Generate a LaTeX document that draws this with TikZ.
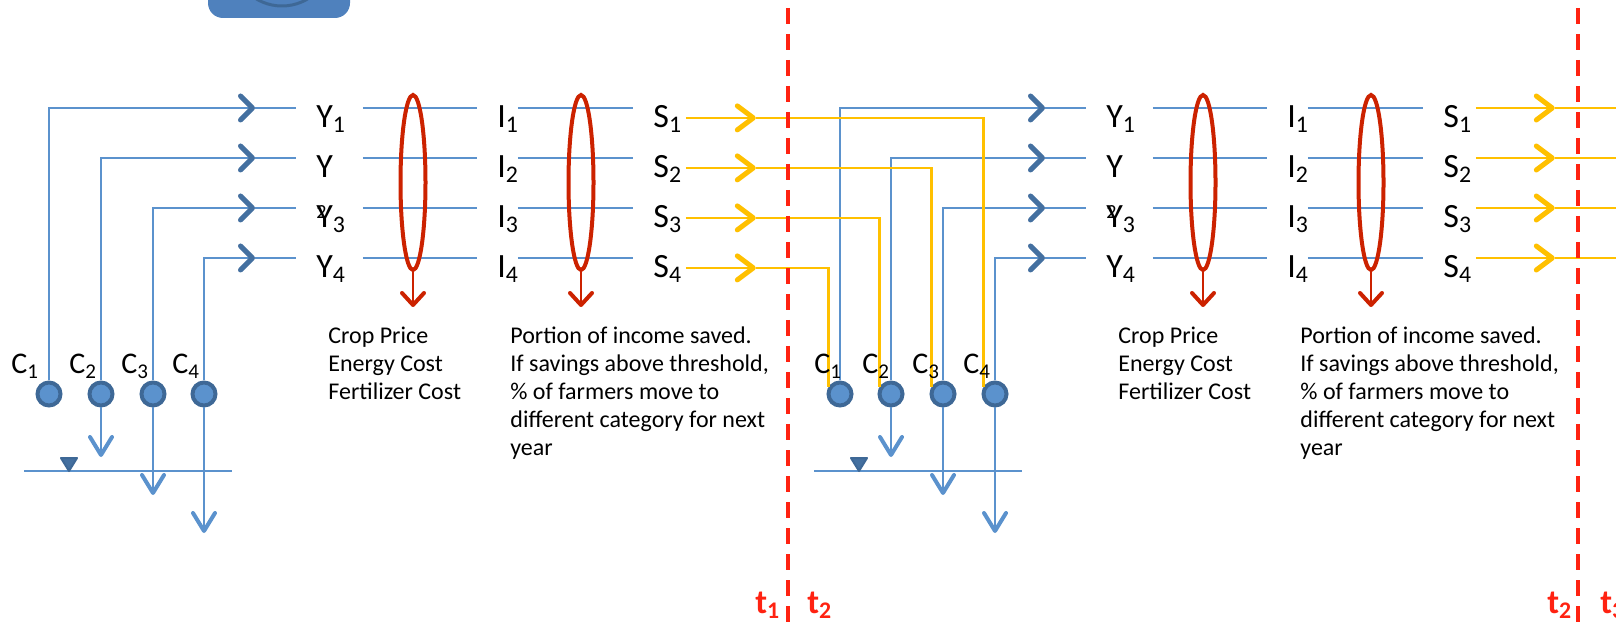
\documentclass[tikz,border=0pt]{standalone}
\usepackage{fontspec}
\setmainfont{Carlito}
\usepackage{tikz}
\usetikzlibrary{positioning,arrows.meta,shapes.geometric}

\definecolor{lineblue}{RGB}{91,146,205}
\definecolor{chevblue}{RGB}{68,112,160}
\definecolor{ringblue}{RGB}{62,104,150}
\definecolor{loopred}{RGB}{204,34,0}
\definecolor{timered}{RGB}{255,34,17}
\definecolor{gold}{RGB}{255,192,0}
\definecolor{iconblue}{RGB}{79,129,189}

\tikzset{
  bchev/.tip={Straight Barb[color=chevblue,round,length=6pt,width=12pt,line width=2.5pt]},
  gchev/.tip={Straight Barb[color=gold,round,length=8pt,width=12pt,line width=2.5pt]},
  rtip/.tip={Straight Barb[round,length=6pt,width=11pt,line width=2pt]},
  dtip/.tip={Straight Barb[round,length=9pt,width=11pt,line width=2pt]}
}

\begin{document}
\begin{tikzpicture}[x=0.5pt,y=-0.5pt,
    lab/.style={anchor=north west,inner sep=0pt,align=left,text height=9.5pt,text depth=0pt,
      font=\fontsize{17}{17}\selectfont,execute at begin node={\noindent\hspace*{10pt}}},
    ylab/.style={lab,text width=33pt},
    ilab/.style={lab,text width=20pt},
    slab/.style={lab,text width=26pt},
    clab/.style={anchor=base west,inner sep=0pt,font=\fontsize{15}{15}\selectfont},
    note/.style={anchor=north west,inner sep=0pt,align=left,font=\fontsize{12}{14}\selectfont},
    tlab/.style={anchor=base west,inner sep=0pt,text=timered,font=\bfseries\fontsize{17}{17}\selectfont},
    cdot/.style={circle,draw=ringblue,fill=lineblue,line width=2pt,minimum size=11.5pt,inner sep=0pt},
    ringred/.style={ellipse,draw=loopred,line width=2pt,minimum width=12.5pt,minimum height=87.5pt,inner sep=0pt},
    flow/.style={lineblue,line width=1pt},
    drop/.style={lineblue,line width=1.3pt},
    gflow/.style={gold,line width=1.2pt},
    rflow/.style={loopred,line width=1pt},
    tdash/.style={timered,line width=2pt,dash pattern=on 8pt off 5pt}]

  \useasboundingbox (0,0) rectangle (1616,630);

  \fill[iconblue,rounded corners=7.5pt] (208,-40) rectangle (350,18);
  \draw[ringblue,line width=1.5pt] (282,-44) circle [radius=25pt];

  % first year
  \node[ylab] (y1) at (296,108) {Y\textsubscript{1}};
  \node[ylab] (y2) at (296,158) {Y};
  \node[ylab] (y3) at (296,208) {\rlap{\raisebox{4.5pt}{\fontsize{10}{10}\selectfont 2}}Y\textsubscript{3}};
  \node[ylab] (y4) at (296,258) {Y\textsubscript{4}};
  \node[ilab] (i1) at (477,108) {I\textsubscript{1}};
  \node[ilab] (i2) at (477,158) {I\textsubscript{2}};
  \node[ilab] (i3) at (477,208) {I\textsubscript{3}};
  \node[ilab] (i4) at (477,258) {I\textsubscript{4}};
  \node[slab] (s1) at (633,108) {S\textsubscript{1}};
  \node[slab] (s2) at (633,158) {S\textsubscript{2}};
  \node[slab] (s3) at (633,208) {S\textsubscript{3}};
  \node[slab] (s4) at (633,258) {S\textsubscript{4}};

  \draw[flow] (y1.north east) -- (i1.north west) (i1.north east) -- (s1.north west);
  \draw[flow] (y2.north east) -- (i2.north west) (i2.north east) -- (s2.north west);
  \draw[flow] (y3.north east) -- (i3.north west) (i3.north east) -- (s3.north west);
  \draw[flow] (y4.north east) -- (i4.north west) (i4.north east) -- (s4.north west);

  \node[cdot] (c1) at (49,394) {};
  \node[cdot] (c2) at (101,394) {};
  \node[cdot] (c3) at (153,394) {};
  \node[cdot] (c4) at (204,394) {};

  \coordinate[left=20.5pt of y1.north west] (b1);
  \coordinate[left=20.5pt of y2.north west] (b2);
  \coordinate[left=20.5pt of y3.north west] (b3);
  \coordinate[left=20.5pt of y4.north west] (b4);
  \draw[flow,-bchev] (c1) |- (b1);
  \draw[flow,-bchev] (c2) |- (b2);
  \draw[flow,-bchev] (c3) |- (b3);
  \draw[flow,-bchev] (c4) |- (b4);
  \draw[flow] (b1) -- (y1.north west);
  \draw[flow] (b2) -- (y2.north west);
  \draw[flow] (b3) -- (y3.north west);
  \draw[flow] (b4) -- (y4.north west);

  \node[ringred] (e1) at (413,182.5) {};
  \node[ringred] (e2) at (581,182.5) {};
  \coordinate (r1) at (413,307);
  \coordinate (r2) at (581,307);
  \draw[rflow,-rtip] (e1) -- (r1);
  \draw[rflow,-rtip] (e2) -- (r2);

  \coordinate (w1) at (24,471);
  \coordinate (w2) at (232,471);
  \draw[flow] (w1) -- (w2);
  \filldraw[fill=chevblue,draw=ringblue,line width=1pt,line join=round] (61,458) -- (77,458) -- (69,471) -- cycle;

  \coordinate (d2) at (101,457);
  \coordinate (d3) at (153,495);
  \coordinate (d4) at (204,533);
  \draw[drop,-dtip] (c2) -- (d2);
  \draw[drop,-dtip] (c3) -- (d3);
  \draw[drop,-dtip] (c4) -- (d4);

  \node[clab] (lc1) at (11,374) {C\textsubscript{1}};
  \node[clab] (lc2) at (69,374) {C\textsubscript{2}};
  \node[clab] (lc3) at (121,374) {C\textsubscript{3}};
  \node[clab] (lc4) at (172,374) {C\textsubscript{4}};

  \node[note] (n1) at (328,327) {Crop Price\\Energy Cost\\Fertilizer Cost};
  \node[note] (n2) at (510,326) {Portion of income saved.\\If savings above threshold,\\\% of farmers move to\\different category for next\\year};

  % second year
  \node[ylab] (y1p) at (1086,108) {Y\textsubscript{1}};
  \node[ylab] (y2p) at (1086,158) {Y};
  \node[ylab] (y3p) at (1086,208) {\rlap{\raisebox{4.5pt}{\fontsize{10}{10}\selectfont 2}}Y\textsubscript{3}};
  \node[ylab] (y4p) at (1086,258) {Y\textsubscript{4}};
  \node[ilab] (i1p) at (1267,108) {I\textsubscript{1}};
  \node[ilab] (i2p) at (1267,158) {I\textsubscript{2}};
  \node[ilab] (i3p) at (1267,208) {I\textsubscript{3}};
  \node[ilab] (i4p) at (1267,258) {I\textsubscript{4}};
  \node[slab] (s1p) at (1423,108) {S\textsubscript{1}};
  \node[slab] (s2p) at (1423,158) {S\textsubscript{2}};
  \node[slab] (s3p) at (1423,208) {S\textsubscript{3}};
  \node[slab] (s4p) at (1423,258) {S\textsubscript{4}};

  \draw[flow] (y1p.north east) -- (i1p.north west) (i1p.north east) -- (s1p.north west);
  \draw[flow] (y2p.north east) -- (i2p.north west) (i2p.north east) -- (s2p.north west);
  \draw[flow] (y3p.north east) -- (i3p.north west) (i3p.north east) -- (s3p.north west);
  \draw[flow] (y4p.north east) -- (i4p.north west) (i4p.north east) -- (s4p.north west);

  \node[cdot] (c1p) at (840,394) {};
  \node[cdot] (c2p) at (891,394) {};
  \node[cdot] (c3p) at (943,394) {};
  \node[cdot] (c4p) at (995,394) {};

  \coordinate[left=20.5pt of y1p.north west] (b1p);
  \coordinate[left=20.5pt of y2p.north west] (b2p);
  \coordinate[left=20.5pt of y3p.north west] (b3p);
  \coordinate[left=20.5pt of y4p.north west] (b4p);
  \draw[flow,-bchev] (c1p) |- (b1p);
  \draw[flow,-bchev] (c2p) |- (b2p);
  \draw[flow,-bchev] (c3p) |- (b3p);
  \draw[flow,-bchev] (c4p) |- (b4p);
  \draw[flow] (b1p) -- (y1p.north west);
  \draw[flow] (b2p) -- (y2p.north west);
  \draw[flow] (b3p) -- (y3p.north west);
  \draw[flow] (b4p) -- (y4p.north west);

  \node[ringred] (e1p) at (1203,182.5) {};
  \node[ringred] (e2p) at (1371,182.5) {};
  \coordinate (r1p) at (1203,307);
  \coordinate (r2p) at (1371,307);
  \draw[rflow,-rtip] (e1p) -- (r1p);
  \draw[rflow,-rtip] (e2p) -- (r2p);

  \coordinate (w1p) at (814,471);
  \coordinate (w2p) at (1022,471);
  \draw[flow] (w1p) -- (w2p);
  \filldraw[fill=chevblue,draw=ringblue,line width=1pt,line join=round] (851,458) -- (867,458) -- (859,471) -- cycle;

  \coordinate (d2p) at (891,457);
  \coordinate (d3p) at (943,495);
  \coordinate (d4p) at (995,533);
  \draw[drop,-dtip] (c2p) -- (d2p);
  \draw[drop,-dtip] (c3p) -- (d3p);
  \draw[drop,-dtip] (c4p) -- (d4p);

  % savings carried over
  \coordinate[right=35pt of s1.east] (g1);
  \coordinate[right=35pt of s2.east] (g2);
  \coordinate[right=35pt of s3.east] (g3);
  \coordinate[right=35pt of s4.east] (g4);
  \draw[gflow,-gchev] (s1.east) -- (g1);
  \draw[gflow,-gchev] (s2.east) -- (g2);
  \draw[gflow,-gchev] (s3.east) -- (g3);
  \draw[gflow,-gchev] (s4.east) -- (g4);
  \draw[gflow] (g1) -| (c4p.150);
  \draw[gflow] (g2) -| (c3p.150);
  \draw[gflow] (g3) -| (c2p.150);
  \draw[gflow] (g4) -| (c1p.150);

  \coordinate[right=39.5pt of s1p.north east] (g1p);
  \coordinate[right=39.5pt of s2p.north east] (g2p);
  \coordinate[right=39.5pt of s3p.north east] (g3p);
  \coordinate[right=39.5pt of s4p.north east] (g4p);
  \coordinate[right=33pt of g1p] (h1p);
  \coordinate[right=33pt of g2p] (h2p);
  \coordinate[right=33pt of g3p] (h3p);
  \coordinate[right=33pt of g4p] (h4p);
  \draw[gflow,-gchev] (s1p.north east) -- (g1p);
  \draw[gflow,-gchev] (s2p.north east) -- (g2p);
  \draw[gflow,-gchev] (s3p.north east) -- (g3p);
  \draw[gflow,-gchev] (s4p.north east) -- (g4p);
  \draw[gflow] (g1p) -- (h1p);
  \draw[gflow] (g2p) -- (h2p);
  \draw[gflow] (g3p) -- (h3p);
  \draw[gflow] (g4p) -- (h4p);

  \node[clab] (lc1p) at (814,374) {C\textsubscript{1}};
  \node[clab] (lc2p) at (862,374) {C\textsubscript{2}};
  \node[clab] (lc3p) at (912,374) {C\textsubscript{3}};
  \node[clab] (lc4p) at (963,374) {C\textsubscript{4}};

  \node[note] (n1p) at (1118,327) {Crop Price\\Energy Cost\\Fertilizer Cost};
  \node[note] (n2p) at (1300,326) {Portion of income saved.\\If savings above threshold,\\\% of farmers move to\\different category for next\\year};

  % time steps
  \coordinate (ta) at (788,8);
  \coordinate (tb) at (788,632);
  \coordinate (ua) at (1578,8);
  \coordinate (ub) at (1578,632);
  \draw[tdash] (ta) -- (tb);
  \draw[tdash] (ua) -- (ub);
  \node[tlab] (t1) at (755,613) {t\textsubscript{1}};
  \node[tlab] (t2) at (807,613) {t\textsubscript{2}};
  \node[tlab] (t2p) at (1547,613) {t\textsubscript{2}};
  \node[tlab] (t3) at (1600,613) {t\textsubscript{3}};
\end{tikzpicture}
\end{document}
